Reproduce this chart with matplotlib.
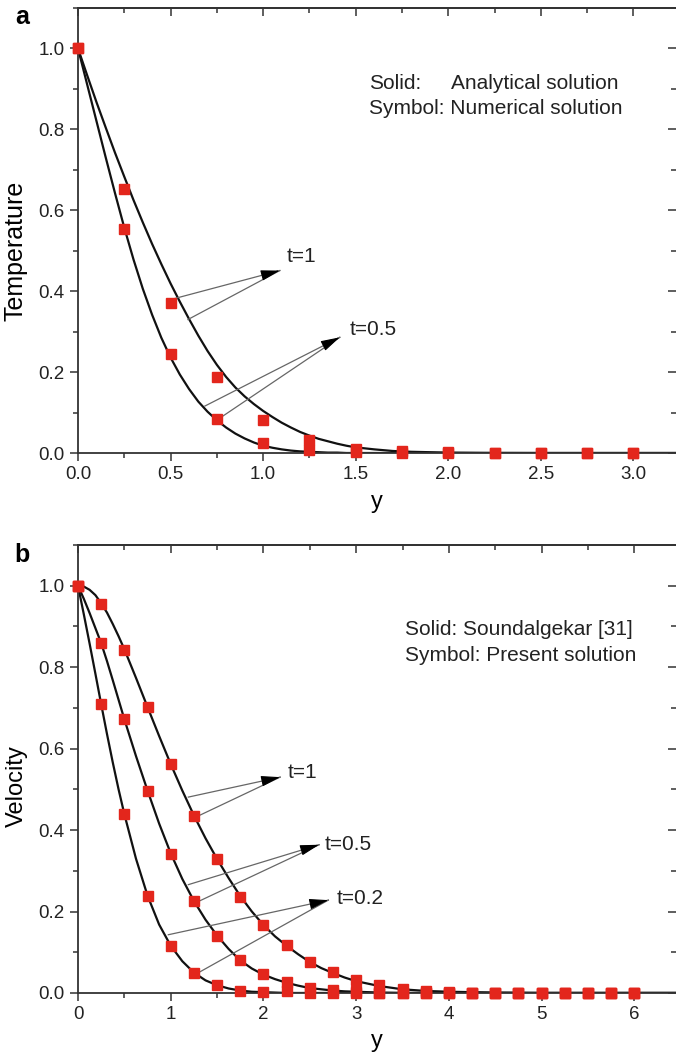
import numpy as np
import matplotlib.pyplot as plt
from matplotlib.ticker import MultipleLocator, FormatStrFormatter

plt.rcParams['font.family'] = ['Liberation Sans', 'DejaVu Sans']

# ---- temperature (panel a) ----
# analytical curves
temp_y = [0.0, 0.05, 0.1, 0.15, 0.2, 0.25, 0.3, 0.35, 0.4, 0.45, 0.5, 0.55, 0.6, 0.65,
          0.7, 0.75, 0.8, 0.85, 0.9, 0.95, 1.0, 1.05, 1.1, 1.15, 1.2, 1.25, 1.3, 1.35,
          1.4, 1.45, 1.5, 1.6, 1.7, 1.8, 1.9, 2.0, 2.2, 2.5, 3.25]
temp_t1 = [1.0, 0.933, 0.867, 0.804, 0.742, 0.683, 0.625, 0.57, 0.517, 0.467, 0.419, 0.374,
           0.331, 0.29, 0.252, 0.218, 0.188, 0.162, 0.14, 0.121, 0.104, 0.089, 0.075, 0.063,
           0.052, 0.043, 0.035, 0.029, 0.023, 0.018, 0.014, 0.009, 0.005, 0.003, 0.002, 0.001,
           0.0003, 0.0, 0.0]
temp_t05 = [1.0, 0.91, 0.82, 0.73, 0.642, 0.557, 0.478, 0.406, 0.342, 0.285, 0.236, 0.194,
            0.158, 0.127, 0.102, 0.081, 0.063, 0.048, 0.036, 0.026, 0.018, 0.013, 0.009,
            0.006, 0.004, 0.003, 0.002, 0.001, 0.001, 0.0, 0.0, 0.0, 0.0, 0.0, 0.0, 0.0,
            0.0, 0.0, 0.0]
# numerical points
temp_pts_y = [0.0, 0.25, 0.5, 0.75, 1.0, 1.25, 1.5, 1.75, 2.0, 2.25, 2.5, 2.75, 3.0]
temp_pts_t1 = [1.0, 0.652, 0.37, 0.187, 0.082, 0.031, 0.011, 0.005, 0.002, 0.0, 0.0, 0.0, 0.0]
temp_pts_t05 = [1.0, 0.554, 0.244, 0.085, 0.025, 0.007, 0.002, 0.0, 0.0, 0.0, 0.0, 0.0, 0.0]

# ---- velocity (panel b) ----
vel_y = [0.0, 0.0625, 0.125, 0.1875, 0.25, 0.3125, 0.375, 0.4375, 0.5, 0.625, 0.75,
         0.875, 1.0, 1.125, 1.25, 1.375, 1.5, 1.625, 1.75, 1.875, 2.0, 2.125, 2.25,
         2.375, 2.5, 2.625, 2.75, 2.875, 3.0, 3.25, 3.5, 3.75, 4.0, 4.5, 5.0, 6.5]
vel_t1 = [1.0, 0.998, 0.99, 0.977, 0.957, 0.934, 0.906, 0.876, 0.844, 0.774, 0.702,
          0.631, 0.562, 0.497, 0.436, 0.38, 0.329, 0.282, 0.238, 0.2, 0.167, 0.139, 0.116,
          0.095, 0.076, 0.061, 0.049, 0.038, 0.029, 0.017, 0.009, 0.005, 0.003, 0.001,
          0.0, 0.0]
vel_t05 = [1.0, 0.968, 0.933, 0.896, 0.859, 0.815, 0.768, 0.72, 0.672, 0.582, 0.497,
           0.416, 0.343, 0.28, 0.226, 0.18, 0.141, 0.108, 0.08, 0.06, 0.045, 0.034, 0.025,
           0.018, 0.012, 0.009, 0.006, 0.004, 0.003, 0.001, 0.0, 0.0, 0.0, 0.0, 0.0, 0.0]
vel_t02 = [1.0, 0.93, 0.858, 0.784, 0.709, 0.636, 0.566, 0.5, 0.439, 0.33, 0.239, 0.168,
           0.116, 0.078, 0.05, 0.031, 0.019, 0.011, 0.006, 0.003, 0.002, 0.001, 0.0, 0.0,
           0.0, 0.0, 0.0, 0.0, 0.0, 0.0, 0.0, 0.0, 0.0, 0.0, 0.0, 0.0]
vel_pts_y = [0.0, 0.25, 0.5, 0.75, 1.0, 1.25, 1.5, 1.75, 2.0, 2.25, 2.5, 2.75, 3.0,
             3.25, 3.5, 3.75, 4.0, 4.25, 4.5, 4.75, 5.0, 5.25, 5.5, 5.75, 6.0]
vel_pts_t1 = [1.0, 0.956, 0.843, 0.702, 0.562, 0.435, 0.328, 0.235, 0.167, 0.117, 0.077,
              0.051, 0.031, 0.019, 0.01, 0.005, 0.002, 0.0, 0.0, 0.0, 0.0, 0.0, 0.0, 0.0, 0.0]
vel_pts_t05 = [1.0, 0.859, 0.672, 0.497, 0.342, 0.226, 0.141, 0.08, 0.046, 0.027, 0.013,
               0.007, 0.004, 0.0, 0.0, 0.0, 0.0, 0.0, 0.0, 0.0, 0.0, 0.0, 0.0, 0.0, 0.0]
vel_pts_t02 = [1.0, 0.709, 0.439, 0.239, 0.116, 0.05, 0.019, 0.006, 0.002, 0.004, 0.0,
               0.0, 0.0, 0.0, 0.0, 0.0, 0.0, 0.0, 0.0, 0.0, 0.0, 0.0, 0.0, 0.0, 0.0]

LINE = '#111111'
RED = '#e3261c'
GREY = '#333333'
TXT = '#222222'


def style_axes(ax, xmax, xmajor, xminor, xfmt):
    ax.set_xlim(0, xmax)
    ax.set_ylim(0, 1.1)
    ax.xaxis.set_major_locator(MultipleLocator(xmajor))
    ax.xaxis.set_minor_locator(MultipleLocator(xminor))
    ax.xaxis.set_major_formatter(FormatStrFormatter(xfmt))
    ax.yaxis.set_minor_locator(MultipleLocator(0.1))
    ax.yaxis.set_major_formatter(FormatStrFormatter('%.1f'))
    ax.set_yticks([0, 0.2, 0.4, 0.6, 0.8, 1.0])
    for s in ['left', 'bottom', 'top']:
        ax.spines[s].set_color(GREY)
        ax.spines[s].set_linewidth(1.3)
    ax.spines['right'].set_visible(False)
    ax.tick_params(which='both', direction='out', color=GREY, width=1.1,
                   labelsize=13.5, labelcolor=TXT, top=False, right=False)
    ax.tick_params(which='major', length=6)
    ax.tick_params(which='minor', length=3.5)

    # inward ticks along the top and right edges
    top = ax.secondary_xaxis('top')
    top.xaxis.set_major_locator(MultipleLocator(xmajor))
    top.xaxis.set_minor_locator(MultipleLocator(xminor))
    top.tick_params(which='both', direction='in', labeltop=False, color=GREY, width=1.1)
    top.tick_params(which='major', length=6)
    top.tick_params(which='minor', length=3.5)
    top.spines['top'].set_color(GREY)
    top.spines['top'].set_linewidth(1.3)
    right = ax.secondary_yaxis('right')
    right.yaxis.set_major_locator(MultipleLocator(0.2))
    right.yaxis.set_minor_locator(MultipleLocator(0.1))
    right.tick_params(which='both', direction='in', labelright=False, color=GREY, width=1.1)
    right.tick_params(which='major', length=6)
    right.tick_params(which='minor', length=3.5)
    right.spines['right'].set_visible(False)


def pointer(ax, head, tails):
    # thin grey leader lines meeting in one black arrow head
    for tail in tails:
        ax.plot([tail[0], head[0]], [tail[1], head[1]], color='#666666', lw=0.9)
    ph = ax.transData.transform(head)
    pt = ax.transData.transform(tails[0])
    d = (pt - ph) / np.hypot(*(pt - ph))
    back = d * 12 * 72 / fig.dpi
    ax.annotate('', xy=head, xytext=(back[0], back[1]), textcoords='offset points',
                arrowprops=dict(arrowstyle='-|>,head_length=0.9,head_width=0.25',
                                fc='black', ec='black', lw=0.8, mutation_scale=13,
                                shrinkA=0, shrinkB=0))


fig = plt.figure(figsize=(6.76, 10.54), dpi=100)

# panel a
ax1 = fig.add_axes([0.1154, 0.5702, 0.8846, 0.4222])
ax1.plot(temp_y, temp_t1, color=LINE, lw=1.6)
ax1.plot(temp_y, temp_t05, color=LINE, lw=1.6)
ax1.plot(temp_pts_y, temp_pts_t1, 's', color=RED, ms=6.5, clip_on=False, zorder=5)
ax1.plot(temp_pts_y, temp_pts_t05, 's', color=RED, ms=6.5, clip_on=False, zorder=5)
style_axes(ax1, 3.23, 0.5, 0.25, '%.1f')
ax1.set_xlabel('y', fontsize=17)
ax1.xaxis.set_label_coords(0.5, -0.085)
ax1.set_ylabel('Temperature', fontsize=18)
ax1.yaxis.set_label_coords(-0.084, 0.455)

pointer(ax1, (1.09, 0.451), [(0.523, 0.382), (0.594, 0.330)])
ax1.text(1.128, 0.485, 't=1', fontsize=15, va='center', color=TXT)
pointer(ax1, (1.414, 0.286), [(0.685, 0.116), (0.775, 0.089)])
ax1.text(1.468, 0.305, 't=0.5', fontsize=15, va='center', color=TXT)

ax1.text(1.57, 0.914, 'Solid:', fontsize=15, va='center', color=TXT)
ax1.text(2.012, 0.914, 'Analytical solution', fontsize=15, va='center', color=TXT)
ax1.text(1.57, 0.852, 'Symbol: Numerical solution', fontsize=15, va='center', color=TXT)

# panel b
ax2 = fig.add_axes([0.1154, 0.0579, 0.8846, 0.4250])
ax2.plot(vel_y, vel_t1, color=LINE, lw=1.6)
ax2.plot(vel_y, vel_t05, color=LINE, lw=1.6)
ax2.plot(vel_y, vel_t02, color=LINE, lw=1.6)
ax2.plot(vel_pts_y, vel_pts_t1, 's', color=RED, ms=6.5, clip_on=False, zorder=5)
ax2.plot(vel_pts_y, vel_pts_t05, 's', color=RED, ms=6.5, clip_on=False, zorder=5)
ax2.plot(vel_pts_y, vel_pts_t02, 's', color=RED, ms=6.5, clip_on=False, zorder=5)
style_axes(ax2, 6.45, 1, 0.5, '%d')
ax2.set_xlabel('y', fontsize=17)
ax2.xaxis.set_label_coords(0.5, -0.082)
ax2.set_ylabel('Velocity', fontsize=17)
ax2.yaxis.set_label_coords(-0.084, 0.462)

pointer(ax2, (2.18, 0.530), [(1.19, 0.481), (1.30, 0.435)])
ax2.text(2.265, 0.542, 't=1', fontsize=15, va='center', color=TXT)
pointer(ax2, (2.60, 0.364), [(1.19, 0.266), (1.32, 0.227)])
ax2.text(2.66, 0.364, 't=0.5', fontsize=15, va='center', color=TXT)
pointer(ax2, (2.70, 0.228), [(0.974, 0.143), (1.316, 0.052)])
ax2.text(2.79, 0.233, 't=0.2', fontsize=15, va='center', color=TXT)

ax2.text(3.53, 0.892, 'Solid: Soundalgekar [31]', fontsize=15, va='center', color=TXT)
ax2.text(3.53, 0.828, 'Symbol: Present solution', fontsize=15, va='center', color=TXT)

fig.text(0.033, 0.984, 'a', fontsize=18, fontweight='bold', ha='center', va='center')
fig.text(0.033, 0.473, 'b', fontsize=18, fontweight='bold', ha='center', va='center')

fig.savefig('out.png', dpi=100)
